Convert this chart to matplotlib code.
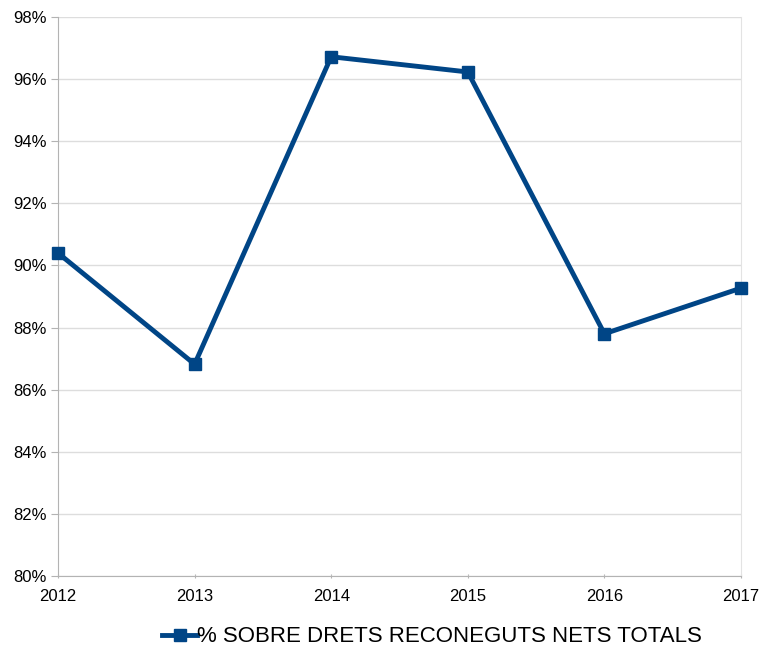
import matplotlib
matplotlib.use("Agg")
import matplotlib.pyplot as plt
from matplotlib.ticker import FuncFormatter

years = ["2012", "2013", "2014", "2015", "2016", "2017"]
values = [90.40, 86.82, 96.72, 96.23, 87.80, 89.27]
series_name = "% SOBRE DRETS RECONEGUTS NETS TOTALS"

plt.rcParams['font.family'] = ['Liberation Sans', 'DejaVu Sans']

fig = plt.figure(figsize=(7.6, 6.5), dpi=100)
ax = fig.add_axes([58/760, (650-576)/650, (741-58)/760, (576-17)/650])

x = list(range(len(years)))
ax.plot(x, values, color="#004586", linewidth=3.5, marker="s", markersize=9,
        label=series_name, clip_on=False, zorder=3)

ax.set_xlim(0, len(years) - 1)
ax.set_ylim(80, 98)
ax.set_yticks(range(80, 99, 2))
ax.yaxis.set_major_formatter(FuncFormatter(lambda v, p: f"{int(v)}%"))
ax.set_xticks(x)
ax.set_xticklabels(years)

ax.grid(axis="y", color="#dddddd", linewidth=1)
ax.set_axisbelow(True)
ax.spines["top"].set_visible(False)
ax.spines["right"].set_color("#e3e3e3")
ax.spines["left"].set_color("#b3b3b3")
ax.spines["bottom"].set_color("#b3b3b3")
ax.tick_params(axis="y", length=5, color="#b3b3b3", labelsize=12, pad=3)
ax.tick_params(axis="x", length=3, color="#b3b3b3", labelsize=12, pad=8, direction="inout")

fig.legend(loc="center", bbox_to_anchor=(432/760, 1 - 637/650), frameon=False,
           fontsize=16, handlelength=1.6, handletextpad=0.0, markerscale=1.0)

fig.savefig("out.png", dpi=100)
